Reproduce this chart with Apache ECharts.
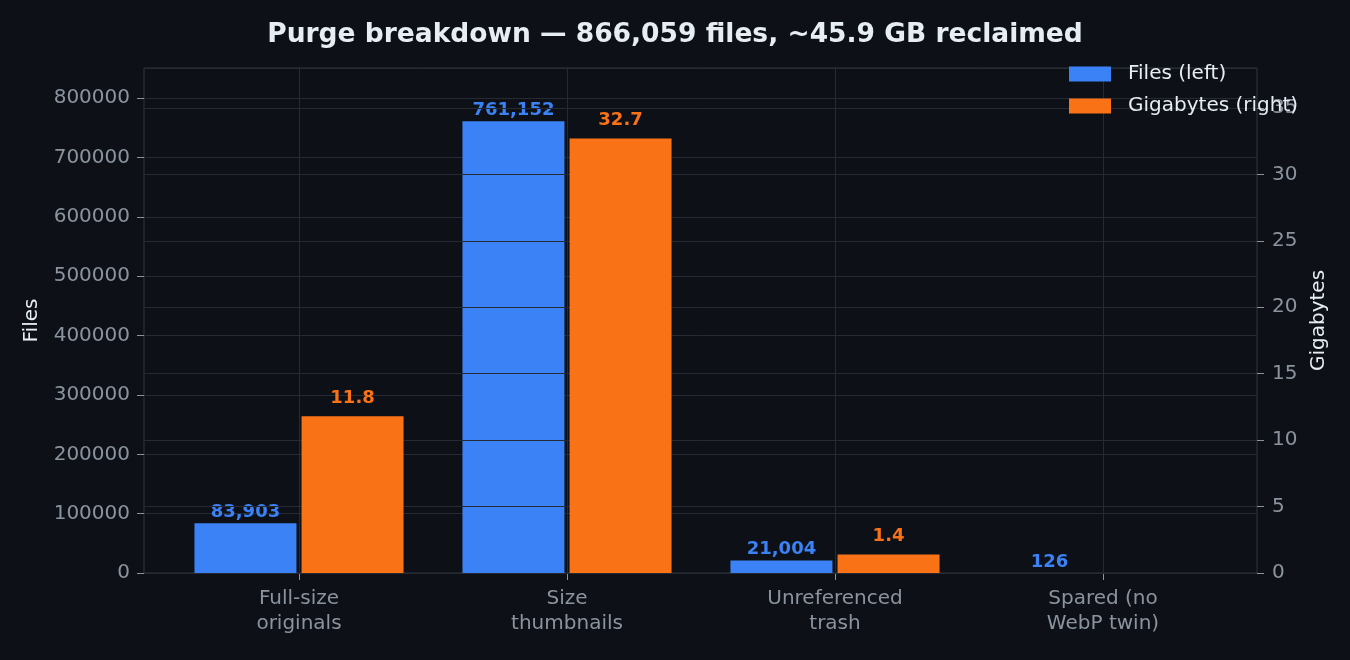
<!DOCTYPE html>
<html>
<head>
    <meta charset="utf-8">
    <title>Purge breakdown</title>
    <script src="https://cdn.jsdelivr.net/npm/echarts@6/dist/echarts.min.js"></script>
    <style>
        html, body {
            margin: 0;
            width: 100%;
            height: 100%;
            background: #0d1117;
        }

        #main {
            width: 1350px;
            height: 660px;
        }
    </style>
</head>
<body>
<div id="main"></div>
<script type="text/javascript">
    var myChart = echarts.init(document.getElementById('main'));

    // data
    const categories = ['Full-size\noriginals', 'Size\nthumbnails', 'Unreferenced\ntrash', 'Spared (no\nWebP twin)']
    const files = [83903, 761152, 21004, 126]
    const gigabytes = [11.8, 32.7, 1.4, null]
    const filesMax = 851000
    const gbMax = 38

    const font = '"DejaVu Sans", sans-serif'
    const gridColor = '#262b33'
    const frameColor = '#30363d'
    const tickText = '#8b949e'
    const textColor = '#e6edf3'
    const blue = '#3b82f6'
    const orange = '#f97316'

    const pos = {top: 68, bottom: 87}

    function fmtThousands(v) {
        return String(v).replace(/\B(?=(\d{3})+(?!\d))/g, ',');
    }

    var option = {
        backgroundColor: '#0d1117',
        animation: false,
        title: {
            text: 'Purge breakdown — 866,059 files, ~45.9 GB reclaimed',
            left: 'center',
            top: 22,
            padding: 0,
            textStyle: {
                color: textColor,
                fontFamily: font,
                fontSize: 26.5,
                fontWeight: 'bold'
            }
        },
        legend: {
            orient: 'vertical',
            left: 1069,
            top: 64,
            padding: 0,
            itemWidth: 42,
            itemHeight: 15,
            itemGap: 12,
            icon: 'rect',
            textStyle: {
                color: textColor,
                fontFamily: font,
                fontSize: 20,
                padding: [0, 0, 0, 12]
            },
            data: ['Files (left)', 'Gigabytes (right)']
        },
        grid: [
            // frame + horizontal grid + tick labels
            {left: 144, right: 93, top: pos.top, bottom: pos.bottom, show: true, borderColor: frameColor, borderWidth: 1, backgroundColor: 'transparent'},
            // bars
            {left: 165, right: 113, top: pos.top, bottom: pos.bottom}
        ],
        xAxis: [
            {gridIndex: 0, type: 'value', show: false, min: 0, max: 1},
            {
                gridIndex: 1,
                type: 'category',
                data: categories,
                axisLine: {show: false},
                axisTick: {show: true, alignWithLabel: true, length: 7, lineStyle: {color: tickText}},
                splitLine: {show: true, alignWithLabel: true, lineStyle: {color: gridColor, width: 1}},
                axisLabel: {
                    color: tickText,
                    fontFamily: font,
                    fontSize: 20,
                    lineHeight: 25,
                    margin: 13
                }
            }
        ],
        yAxis: [
            {
                gridIndex: 0,
                type: 'value',
                position: 'left',
                min: 0,
                max: filesMax,
                interval: 100000,
                name: 'Files',
                nameLocation: 'middle',
                nameGap: 102,
                nameRotate: 90,
                nameTextStyle: {color: textColor, fontFamily: font, fontSize: 20},
                axisLine: {show: false},
                axisTick: {show: true, length: 7, lineStyle: {color: tickText}},
                splitLine: {show: true, lineStyle: {color: gridColor, width: 1}},
                axisLabel: {color: tickText, fontFamily: font, fontSize: 20, margin: 14, showMaxLabel: false,
                    formatter: function (v) { return String(v); }}
            },
            {
                gridIndex: 0,
                type: 'value',
                position: 'right',
                z: 2,
                min: 0,
                max: gbMax,
                interval: 5,
                name: 'Gigabytes',
                nameLocation: 'middle',
                nameGap: 47,
                nameRotate: 90,
                nameTextStyle: {color: textColor, fontFamily: font, fontSize: 20},
                axisLine: {show: false},
                axisTick: {show: true, length: 7, lineStyle: {color: tickText}},
                splitLine: {show: true, lineStyle: {color: gridColor, width: 1}},
                axisLabel: {color: tickText, fontFamily: font, fontSize: 20, margin: 15, showMaxLabel: false}
            },
            {gridIndex: 1, type: 'value', show: false, min: 0, max: filesMax, splitLine: {show: false}},
            {gridIndex: 1, type: 'value', show: false, min: 0, max: gbMax, splitLine: {show: false}}
        ],
        series: [
            {
                name: 'Files (left)',
                type: 'bar',
                xAxisIndex: 1,
                yAxisIndex: 2,
                z: 1,
                barWidth: 102,
                barGap: '5%',
                itemStyle: {color: blue},
                label: {
                    show: true,
                    position: 'top',
                    distance: 2,
                    color: blue,
                    fontFamily: font,
                    fontSize: 18,
                    fontWeight: 'bold',
                    formatter: function (p) {
                        return fmtThousands(p.value);
                    }
                },
                data: files
            },
            {
                name: 'Gigabytes (right)',
                type: 'bar',
                xAxisIndex: 1,
                yAxisIndex: 3,
                z: 3,
                barWidth: 102,
                itemStyle: {color: orange},
                label: {
                    show: true,
                    position: 'top',
                    distance: 9,
                    color: orange,
                    fontFamily: font,
                    fontSize: 18,
                    fontWeight: 'bold',
                    formatter: function (p) {
                        return p.value == null ? '' : p.value.toFixed(1);
                    }
                },
                data: gigabytes
            }
        ]
    };

    myChart.setOption(option);
</script>
</body>
</html>
